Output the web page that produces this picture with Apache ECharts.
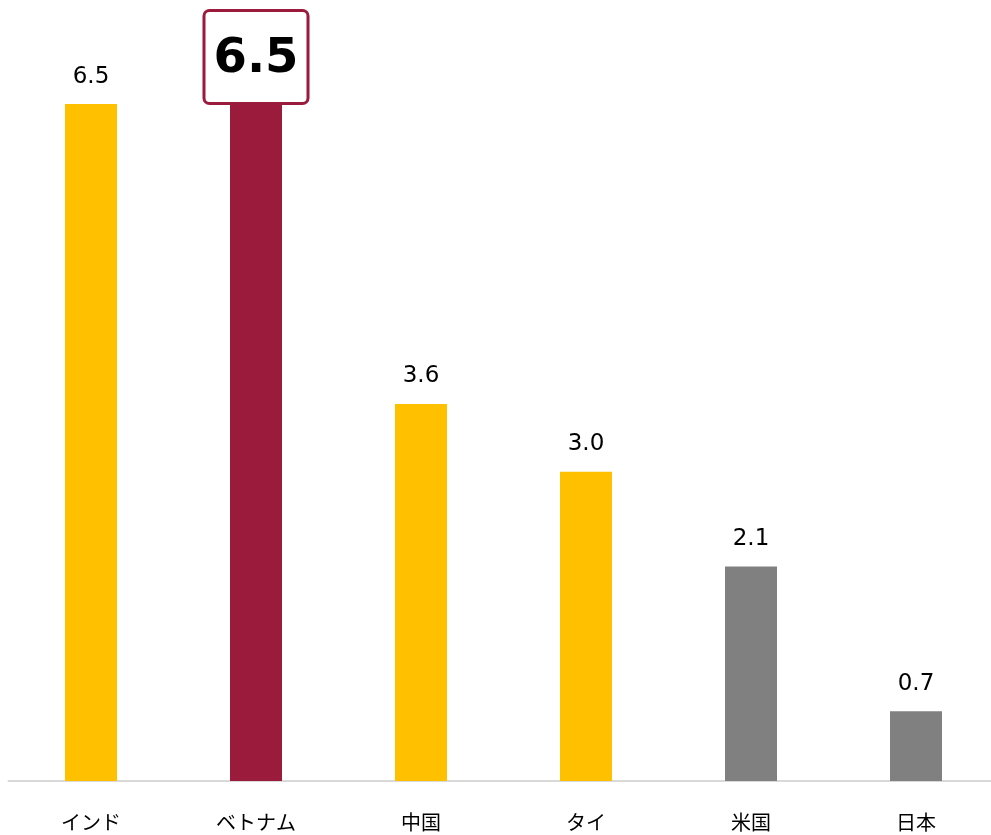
<!DOCTYPE html>
<html>
<head>
<meta charset="utf-8">
<script src="https://cdn.jsdelivr.net/npm/echarts@6/dist/echarts.min.js"></script>
<style>
  html, body { margin: 0; padding: 0; background: #fff; overflow: hidden; }
  /* 右端の軸線が画面端まで届くように少し広く取る */
  #chart { width: 1000px; height: 835px; }
</style>
</head>
<body>
<div id="chart"></div>
<script>
// データ
const categories = ['インド', 'ベトナム', '中国', 'タイ', '米国', '日本']
const values = [6.5, 6.5, 3.62, 2.97, 2.06, 0.67]
const barColors = ['#FFC000', '#9B1B3C', '#FFC000', '#FFC000', '#808080', '#808080']
const highlightIndex = 1

const chart = echarts.init(document.getElementById('chart'))

const seriesData = values.map((v, i) => {
  const item = { value: v, itemStyle: { color: barColors[i] } }
  if (i === highlightIndex) {
    // 強調ラベル（枠付き）
    item.label = {
      fontSize: 48,
      fontWeight: 'bold',
      fontFamily: 'Verdana, "DejaVu Sans", sans-serif',
      color: '#000',
      backgroundColor: '#fff',
      borderColor: '#9B1B3C',
      borderWidth: 3,
      borderRadius: 4,
      padding: [23, 8, 19, 8],
      distance: 2
    }
  }
  return item
})

chart.setOption({
  animation: false,
  grid: { left: 8.5, width: 990, top: 52, bottom: 54 },
  xAxis: {
    type: 'category',
    data: categories,
    axisLine: { show: true, lineStyle: { color: '#d9d9d9', width: 2 } },
    axisTick: { show: false },
    axisLabel: {
      color: '#000',
      fontSize: 20,
      fontFamily: '"Noto Sans CJK JP", sans-serif',
      margin: 31
    }
  },
  yAxis: {
    type: 'value',
    min: 0,
    max: 7,
    show: false
  },
  series: [
    {
      type: 'bar',
      data: seriesData,
      barWidth: 52,
      label: {
        show: true,
        position: 'top',
        distance: 16,
        color: '#000',
        fontSize: 23,
        fontFamily: 'Verdana, "DejaVu Sans", sans-serif',
        formatter: (p) => p.value.toFixed(1)
      }
    }
  ]
})
</script>
</body>
</html>
